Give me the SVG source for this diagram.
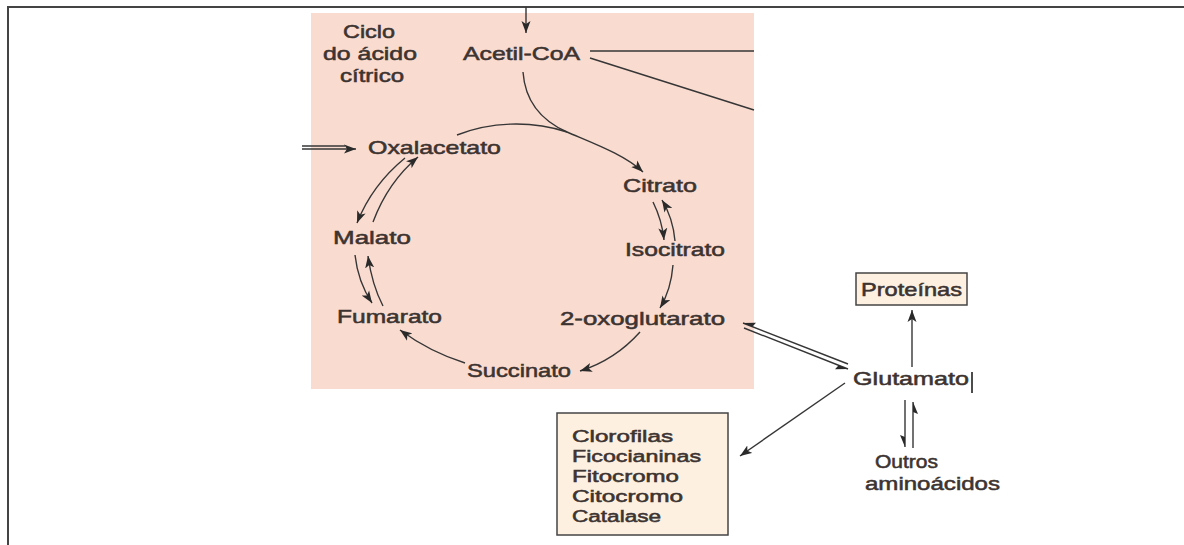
<svg xmlns="http://www.w3.org/2000/svg" width="1184" height="545" viewBox="0 0 1184 545">
<style>
.t{font-family:"Liberation Sans",Arial,sans-serif;font-weight:normal;font-size:19px;fill:#3d3431;stroke:#3d3431;stroke-width:0.55}
.s{font-size:17.2px}
.c{fill:none;stroke:#363636;stroke-width:1.4}
.box{fill:#fdf0e1;stroke:#444;stroke-width:1.5}
</style>
<defs>
<marker id="ar" viewBox="0 -5 12 10" refX="12" refY="0" markerWidth="12" markerHeight="10" markerUnits="userSpaceOnUse" orient="auto">
<path d="M0,-4.5 L12,0 L0,4.5 L3,0 z" fill="#2a2a2a"/>
</marker>
<marker id="hp" viewBox="0 -6 12 12" refX="12" refY="0" markerWidth="12" markerHeight="12" markerUnits="userSpaceOnUse" orient="auto">
<path d="M0,5 L12,0 L2,0 z" fill="#2a2a2a"/>
</marker>
</defs>
<rect width="1184" height="545" fill="#fff"/>
<path d="M8,545 L8,7 L1184,7" fill="none" stroke="#444" stroke-width="2"/>
<rect id="cycle-bg" x="311" y="13" width="443" height="376" fill="#f9dbd0"/>

<g id="connectors">
<path class="c" d="M526,7 L526,33" marker-end="url(#ar)"/>
<path class="c" d="M590,51 L754,51"/>
<path class="c" d="M590,58 L754,110"/>
<path class="c" d="M523,72 C525,100 540,120 567,132 C595,144 625,155 643,172" marker-end="url(#ar)"/>
<path class="c" d="M457,135 C490,122 530,120 567,132"/>
<path class="c" d="M653,202 Q662,220 664,240" marker-end="url(#ar)"/>
<path class="c" d="M675,241 Q673,218 662,200" marker-end="url(#ar)"/>
<path class="c" d="M673,265 Q671,290 660,308" marker-end="url(#ar)"/>
<path class="c" d="M640,332 Q615,360 580,371" marker-end="url(#ar)"/>
<path class="c" d="M465,363 Q430,352 400,330" marker-end="url(#ar)"/>
<path class="c" d="M383,306 Q372,285 368,256" marker-end="url(#ar)"/>
<path class="c" d="M355,255 Q358,282 372,303" marker-end="url(#ar)"/>
<path class="c" d="M373,222 Q388,182 418,157" marker-end="url(#ar)"/>
<path class="c" d="M405,158 Q372,185 357,223" marker-end="url(#ar)"/>
<path class="c" d="M302,146 L345,146"/>
<path class="c" d="M302,149 L356,149" marker-end="url(#ar)"/>
<path class="c" d="M848,364 L743,323" marker-end="url(#hp)"/>
<path class="c" d="M744,328 L848,369" marker-end="url(#hp)"/>
<path class="c" d="M912,367 L912,310" marker-end="url(#ar)"/>
<path class="c" d="M905,400 L905,447" marker-end="url(#hp)"/>
<path class="c" d="M913,448 L913,402" marker-end="url(#hp)"/>
<path class="c" d="M845,383 L740,456" marker-end="url(#ar)"/>
</g>

<g id="title">
<text class="t" x="343" y="38" textLength="52" lengthAdjust="spacingAndGlyphs">Ciclo</text>
<text class="t" x="323" y="60" textLength="94" lengthAdjust="spacingAndGlyphs">do ácido</text>
<text class="t" x="340" y="82" textLength="64" lengthAdjust="spacingAndGlyphs">cítrico</text>
</g>
<g id="acetilcoa"><text class="t" x="463" y="60" textLength="117" lengthAdjust="spacingAndGlyphs">Acetil-CoA</text></g>
<g id="oxalacetato"><text class="t" x="368" y="154" textLength="133" lengthAdjust="spacingAndGlyphs">Oxalacetato</text></g>
<g id="citrato"><text class="t" x="623" y="192" textLength="74" lengthAdjust="spacingAndGlyphs">Citrato</text></g>
<g id="malato"><text class="t" x="333" y="244" textLength="78" lengthAdjust="spacingAndGlyphs">Malato</text></g>
<g id="isocitrato"><text class="t" x="625" y="256" textLength="100" lengthAdjust="spacingAndGlyphs">Isocitrato</text></g>
<g id="fumarato"><text class="t" x="337" y="323" textLength="105" lengthAdjust="spacingAndGlyphs">Fumarato</text></g>
<g id="oxoglutarato"><text class="t" x="560" y="325" textLength="165" lengthAdjust="spacingAndGlyphs">2-oxoglutarato</text></g>
<g id="succinato"><text class="t" x="467" y="377" textLength="104" lengthAdjust="spacingAndGlyphs">Succinato</text></g>
<g id="proteinas">
<rect class="box" x="856" y="273" width="111" height="32"/>
<text class="t" x="861" y="296" textLength="101" lengthAdjust="spacingAndGlyphs">Proteínas</text>
</g>
<g id="glutamato">
<text class="t" x="853" y="385" textLength="116" lengthAdjust="spacingAndGlyphs">Glutamato</text>
<line x1="972" y1="372" x2="972" y2="393" stroke="#111" stroke-width="1.5"/>
</g>
<g id="outros">
<text class="t" x="875" y="468" textLength="63" lengthAdjust="spacingAndGlyphs">Outros</text>
<text class="t" x="865" y="490" textLength="135" lengthAdjust="spacingAndGlyphs">aminoácidos</text>
</g>
<g id="pigmentos">
<rect class="box" x="557" y="413" width="171" height="122"/>
<text class="t s" x="572" y="442" textLength="101" lengthAdjust="spacingAndGlyphs">Clorofilas</text>
<text class="t s" x="572" y="462" textLength="129" lengthAdjust="spacingAndGlyphs">Ficocianinas</text>
<text class="t s" x="572" y="482" textLength="107" lengthAdjust="spacingAndGlyphs">Fitocromo</text>
<text class="t s" x="572" y="502" textLength="111" lengthAdjust="spacingAndGlyphs">Citocromo</text>
<text class="t s" x="572" y="522" textLength="89" lengthAdjust="spacingAndGlyphs">Catalase</text>
</g>
</svg>
